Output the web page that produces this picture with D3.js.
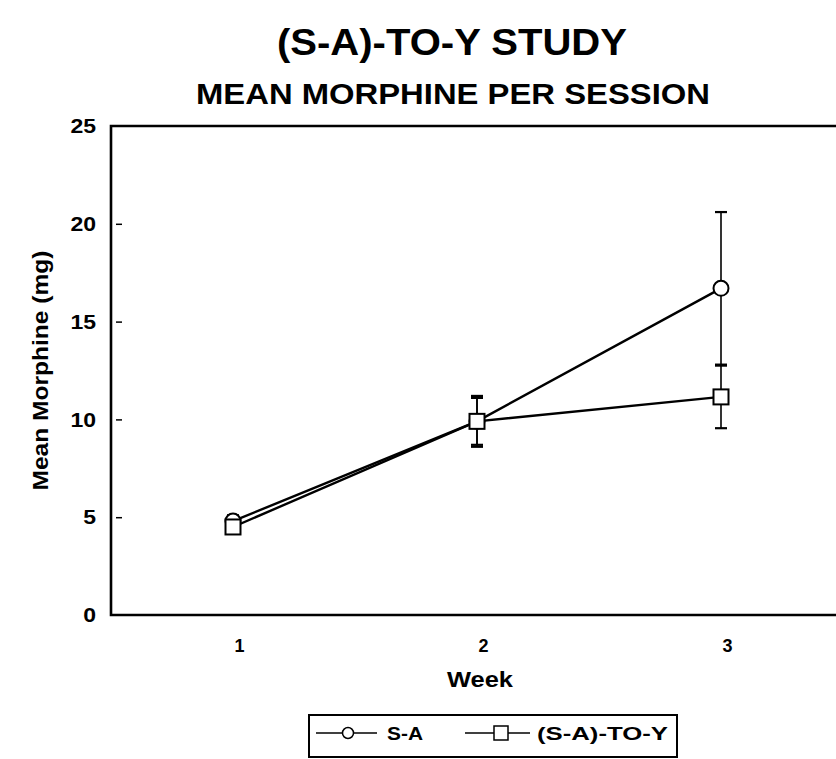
<!DOCTYPE html>
<html>
<head>
<meta charset="utf-8">
<script src="https://cdn.jsdelivr.net/npm/d3@7"></script>
<style>
  html, body { margin: 0; padding: 0; background: #fff; }
  svg { display: block; }
  text { font-family: "Liberation Sans", Arial, Helvetica, sans-serif; font-weight: bold; fill: #000; }
</style>
</head>
<body>
<script>
// ---- data ----
const weeks = [1, 2, 3];
const weekLabels = ["1", "2", "3"];
const seriesNames = ["S-A", "(S-A)-TO-Y"];
const saMean = [4.8, 9.9, 16.7];
const saErr = [0.3, 1.3, 3.9];
const toyMean = [4.5, 9.9, 11.15];
const toyErr = [0.3, 1.2, 1.6];
const yTicks = [0, 5, 10, 15, 20, 25];
const titleText = "(S-A)-TO-Y STUDY";
const subtitleText = "MEAN MORPHINE PER SESSION";
const xTitle = "Week";
const yTitle = "Mean Morphine (mg)";

const W = 836, H = 759;
const svg = d3.select("body").append("svg").attr("width", W).attr("height", H);

const x = d3.scaleLinear().domain([0.5, 3.5]).range([111, 843]);
const y = d3.scaleLinear().domain([0, 25]).range([615, 126]);

// titles
svg.append("text").attr("x", 452).attr("y", 55).attr("text-anchor", "middle")
  .attr("font-size", 37).attr("textLength", 350).attr("lengthAdjust", "spacingAndGlyphs").text(titleText);
svg.append("text").attr("x", 453).attr("y", 104).attr("text-anchor", "middle")
  .attr("font-size", 29).attr("textLength", 514).attr("lengthAdjust", "spacingAndGlyphs").text(subtitleText);

// frame
const [x0, x1] = x.range();
const [yb, yt] = y.range();
svg.append("path")
  .attr("d", `M${x1},${yt}H${x0}V${yb}H${x1}`)
  .attr("fill", "none").attr("stroke", "#000").attr("stroke-width", 2.6);

// y axis (inner ticks + labels)
const yAxis = d3.axisLeft(y).tickValues(yTicks).tickSize(0).tickPadding(15).tickFormat(d3.format("d"));
const gy = svg.append("g").attr("transform", `translate(${x0},0)`).call(yAxis);
gy.select(".domain").remove();
gy.selectAll("text").attr("font-size", 21).attr("font-family", "Liberation Sans, Arial, sans-serif")
  .attr("font-weight", "bold").attr("textLength", d => String(d).length * 12.8).attr("lengthAdjust", "spacingAndGlyphs");
gy.selectAll(".tick").filter(d => d > 0 && d < 25).append("line")
  .attr("x1", 5).attr("x2", 11).attr("stroke", "#000").attr("stroke-width", 1.5);

// x axis labels
const xAxis = d3.axisBottom(x).tickValues(weeks).tickSize(0).tickPadding(24).tickFormat((d, i) => weekLabels[i]);
const gx = svg.append("g").attr("transform", `translate(0,${yb})`).call(xAxis);
gx.select(".domain").remove();
gx.selectAll("text").attr("font-size", 18).attr("dx", 6)
  .attr("font-family", "Liberation Sans, Arial, sans-serif").attr("font-weight", "bold");

// axis titles
svg.append("text").attr("x", 480).attr("y", 687).attr("text-anchor", "middle")
  .attr("font-size", 22).attr("textLength", 66).attr("lengthAdjust", "spacingAndGlyphs").text(xTitle);
svg.append("text").attr("transform", `translate(48,${(yb + yt) / 2}) rotate(-90)`).attr("text-anchor", "middle")
  .attr("font-size", 22).attr("textLength", 240).attr("lengthAdjust", "spacingAndGlyphs").text(yTitle);

// series
const series = [
  { name: seriesNames[0], mean: saMean, err: saErr, shape: "circle" },
  { name: seriesNames[1], mean: toyMean, err: toyErr, shape: "square" }
];
const line = d3.line().x(d => x(d.w)).y(d => y(d.m));

series.forEach(s => {
  const pts = weeks.map((w, i) => ({ w, m: s.mean[i], e: s.err[i] }));
  const g = svg.append("g");
  // error bars
  pts.forEach(p => {
    const eb = g.append("g");
    eb.append("line").attr("x1", x(p.w)).attr("x2", x(p.w)).attr("y1", y(p.m + p.e)).attr("y2", y(p.m - p.e))
      .attr("stroke", "#000").attr("stroke-width", 1.6);
    [p.m + p.e, p.m - p.e].forEach(v => {
      eb.append("line").attr("x1", x(p.w) - 6).attr("x2", x(p.w) + 6).attr("y1", y(v)).attr("y2", y(v))
        .attr("stroke", "#000").attr("stroke-width", 2.2);
    });
  });
  g.append("path").datum(pts).attr("d", line).attr("fill", "none").attr("stroke", "#000").attr("stroke-width", 2.4);
  pts.forEach(p => {
    if (s.shape === "circle") {
      g.append("circle").attr("cx", x(p.w)).attr("cy", y(p.m)).attr("r", 7.5)
        .attr("fill", "#fff").attr("stroke", "#000").attr("stroke-width", 2);
    } else {
      g.append("rect").attr("x", x(p.w) - 7.5).attr("y", y(p.m) - 7.5).attr("width", 15).attr("height", 15)
        .attr("fill", "#fff").attr("stroke", "#000").attr("stroke-width", 2);
    }
  });
});

// legend
const lg = svg.append("g");
lg.append("rect").attr("x", 309).attr("y", 715).attr("width", 368).attr("height", 42)
  .attr("fill", "#fff").attr("stroke", "#000").attr("stroke-width", 2);
const ly = 733;
// S-A item
lg.append("line").attr("x1", 316).attr("x2", 377).attr("y1", ly).attr("y2", ly).attr("stroke", "#000").attr("stroke-width", 1.5);
lg.append("circle").attr("cx", 348).attr("cy", ly).attr("r", 5.5).attr("fill", "#fff").attr("stroke", "#000").attr("stroke-width", 1.5);
lg.append("text").attr("x", 387).attr("y", ly + 7).attr("font-size", 19).attr("textLength", 36)
  .attr("lengthAdjust", "spacingAndGlyphs").text(seriesNames[0]);
// (S-A)-TO-Y item
lg.append("line").attr("x1", 465).attr("x2", 530).attr("y1", ly).attr("y2", ly).attr("stroke", "#000").attr("stroke-width", 1.5);
lg.append("rect").attr("x", 494).attr("y", ly - 7).attr("width", 14).attr("height", 14).attr("fill", "#fff").attr("stroke", "#000").attr("stroke-width", 1.5);
lg.append("text").attr("x", 537).attr("y", ly + 7).attr("font-size", 19).attr("textLength", 131)
  .attr("lengthAdjust", "spacingAndGlyphs").text(seriesNames[1]);
</script>
</body>
</html>
